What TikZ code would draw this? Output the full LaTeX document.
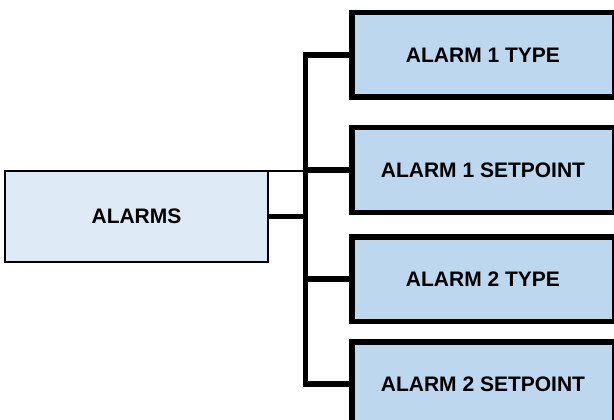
\documentclass[tikz,border=0pt]{standalone}
\usepackage{fontspec}
\setmainfont{Liberation Sans}
\usetikzlibrary{positioning}
\definecolor{parentfill}{HTML}{DEEBF7}
\definecolor{childfill}{HTML}{BDD7EE}

\begin{document}
\begin{tikzpicture}[x=1pt, y=-1pt,
  parent/.style={draw, line width=2pt, fill=parentfill, outer sep=0pt,
    minimum width=263pt, minimum height=91pt, inner sep=0pt,
    font=\fontsize{21}{25}\selectfont\bfseries},
  child/.style={draw, line width=5.5pt, fill=childfill,
    minimum width=262.5pt, minimum height=84.5pt, inner sep=0pt,
    font=\fontsize{21}{25}\selectfont\bfseries},
  wire/.style={line width=5.5pt, line join=miter}]
\useasboundingbox (0,0) rectangle (614,420);

\node[parent] (alarms) at (136.5,216.5) {\raisebox{-2pt}{ALARMS}};
\node[child] (type1) at (483,55) {ALARM 1 TYPE};
\node[child] (setp1) at (483,170) {ALARM 1 SETPOINT};
\node[child] (type2) at (483,279) {ALARM 2 TYPE};
\node[child] (setp2) at (483,384) {ALARM 2 SETPOINT};

\coordinate (bus) at (305.5,215);

% bus with the two end branches
\draw[wire] (type1.west) -| (bus) |- (setp2.west);
\draw[wire] (alarms.east) -- (alarms.east -| bus);
\draw[wire] (setp1.west) -- (setp1.west -| bus);
\draw[wire] (type2.west) -- (type2.west -| bus);
\draw[line width=2pt] (alarms.north east) -- (alarms.north east -| bus);
\end{tikzpicture}
\end{document}
